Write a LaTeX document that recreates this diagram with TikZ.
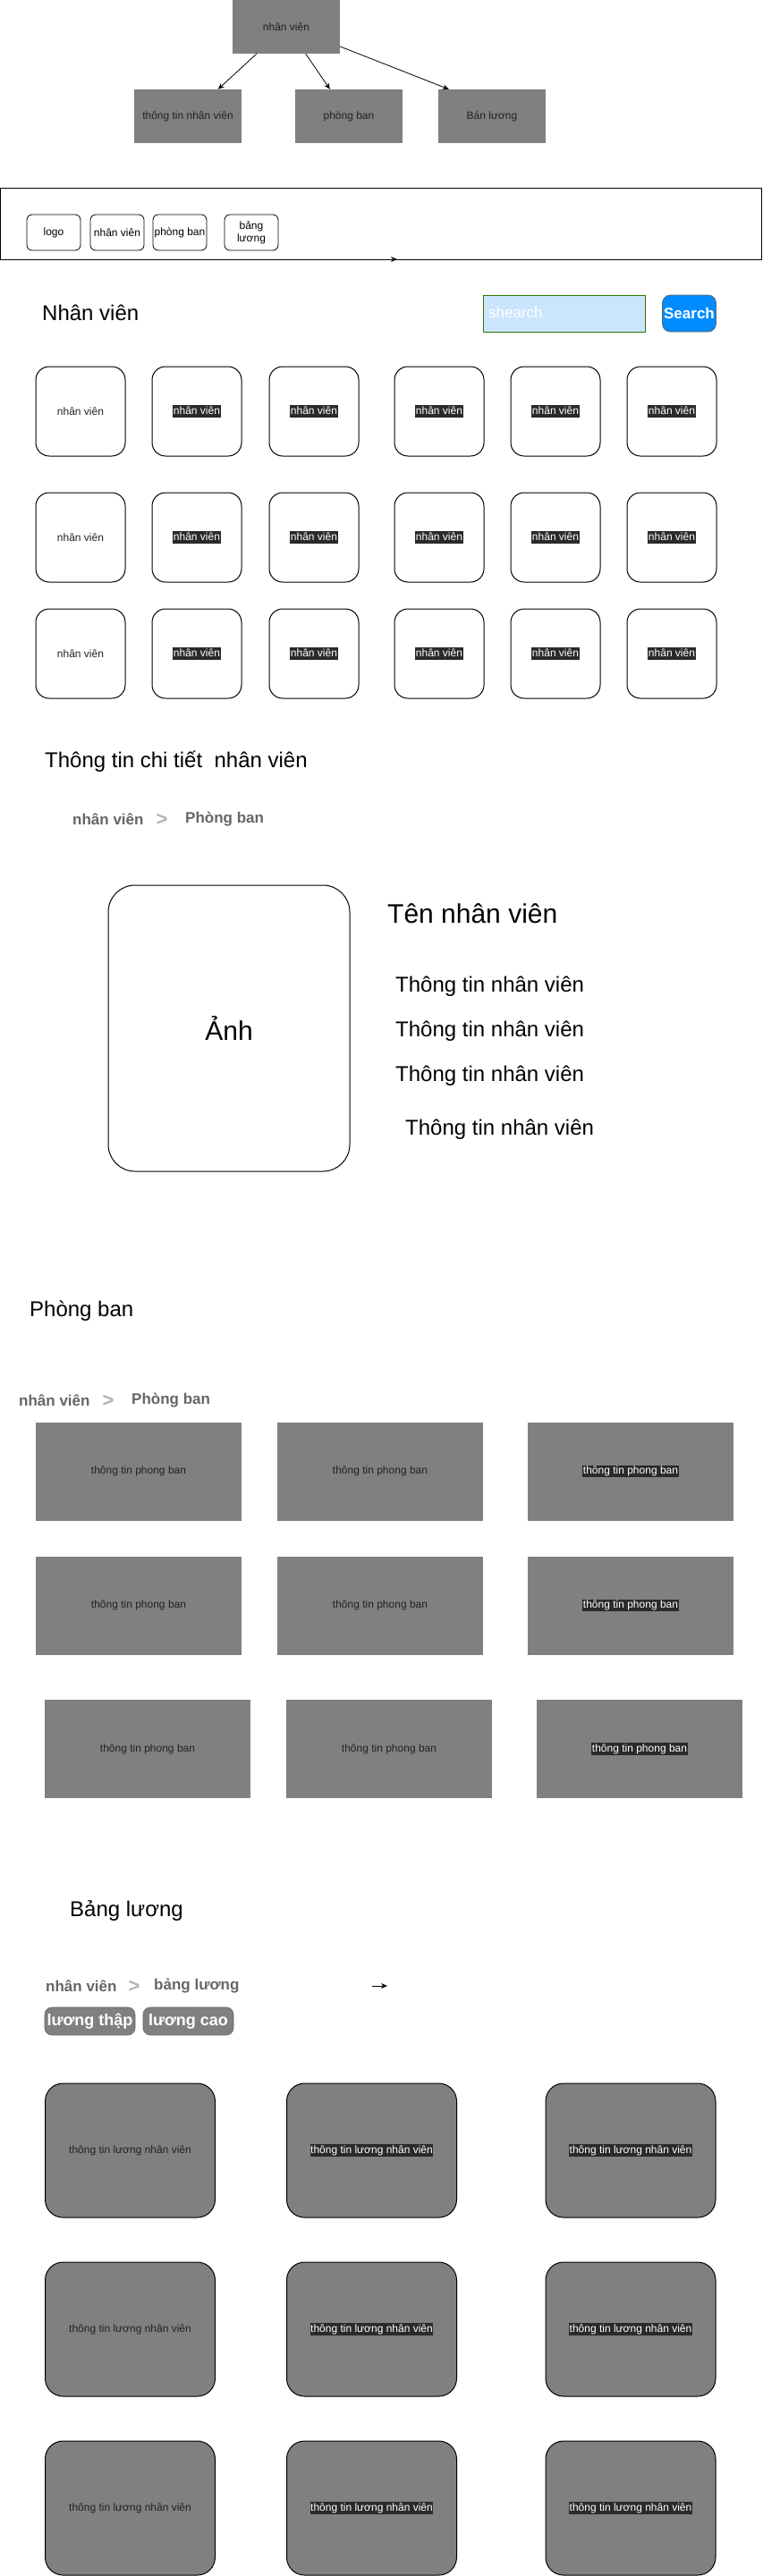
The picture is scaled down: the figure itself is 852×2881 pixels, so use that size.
\documentclass[tikz,border=0pt]{standalone}
\usepackage{fontspec}
\setmainfont{Liberation Sans}
\usetikzlibrary{arrows.meta}
\definecolor{boxgray}{HTML}{808080}
\definecolor{txtdark}{HTML}{222222}
\definecolor{hlbg}{HTML}{2A2A2A}
\definecolor{crumbgray}{HTML}{666666}
\definecolor{sepgray}{HTML}{B3B3B3}
\definecolor{searchfill}{HTML}{CCE5FF}
\definecolor{searchdraw}{HTML}{2D7600}
\definecolor{btnblue}{HTML}{008CFF}
\definecolor{btnborder}{HTML}{666666}
\newcommand\fsz[1]{\fontsize{#1}{#1}\selectfont}
\begin{document}
\begin{tikzpicture}[x=1pt,y=-1pt,
  tbox/.style={fill=boxgray, draw=none, minimum width=120, minimum height=60, inner sep=0, text=txtdark, font=\fsz{12}},
  navbtn/.style={draw, line width=0.8, rounded corners=6, minimum width=60, minimum height=40, inner sep=0, align=center, font=\fontsize{12}{14}\selectfont},
  card/.style={draw, line width=1, rounded corners=15, fill=white, minimum width=100, minimum height=100, inner sep=0, text=txtdark, font=\fsz{12}},
  hl/.style={fill=hlbg, text=white, font=\fsz{12}, inner xsep=0.5, inner ysep=0.8, text height=9, text depth=2.5},
  pbox/.style={fill=boxgray, draw=none, minimum width=230, minimum height=110, inner sep=0, text=txtdark, font=\fsz{12}},
  lcard/.style={fill=boxgray, draw, line width=1, rounded corners=20, minimum width=190, minimum height=150, inner sep=0, text=txtdark, font=\fsz{12}},
  titletext/.style={font=\fsz{24}, anchor=west, inner sep=0},
  crumb/.style={font=\bfseries\fsz{17}, text=crumbgray, anchor=west, inner sep=0},
  crumbsep/.style={font=\bfseries\fsz{22}, text=sepgray, inner sep=0},
  pill/.style={fill=boxgray, draw=btnborder, line width=0.6, rounded corners=8, minimum width=101, minimum height=31, inner sep=0, text=white, font=\bfseries\fsz{18}},
  arr/.style={-{Stealth[length=7, width=6]}, line width=0.8}
]
\useasboundingbox (0,0) rectangle (852,2881);
\fill[white] (0,0) rectangle (852,2881);

% ---------- tree ----------
\node[tbox] (root) at (320,30) {nhân viên};
\node[tbox] (tc1) at (210,130) {thông tin nhân viên};
\node[tbox] (tc2) at (390,130) {phòng ban};
\node[tbox] (tc3) at (550,130) {Bán lương};
\draw[arr] ([xshift=27]root.south west) -- ([xshift=94]tc1.north west);
\draw[arr] ([xshift=82]root.south west) -- ([xshift=39]tc2.north west);
\draw[arr] ([yshift=-22]root.east) -- ([xshift=12]tc3.north west);

% ---------- nav bar ----------
\node[draw, line width=1, minimum width=851, minimum height=80, inner sep=0] (nav) at (426,250) {};
\node[navbtn] (nlogo) at (60,260) {logo};
\node[navbtn] (nnv) at (131,260) {nhân viên};
\node[navbtn] (npb) at (201,260) {phòng ban};
\node[navbtn] (nbl) at (281,260) {bảng\\lương};
\coordinate (na1) at (431,290);
\coordinate (na2) at (444,290);
\draw[arr] (na1) -- (na2);

% ---------- nhan vien list ----------
\node[titletext] (nvtitle) at (47,350) {Nhân viên};
\node[draw=searchdraw, fill=searchfill, line width=1, minimum width=181, minimum height=41, inner sep=0] (sbox) at (631,350.5) {};
\node[font=\fsz{17}, text=white, anchor=west, inner sep=0] (stext) at (546,349) {shearch};
\node[fill=btnblue, draw=btnborder, line width=0.8, rounded corners=9, minimum width=60, minimum height=41, inner sep=0, text=white, font=\bfseries\fsz{17}] (sbtn) at (770.5,350.5) {Search};

\foreach \r/\y in {1/460,2/601,3/731} {
  \node[card] (nv\r1) at (90,\y) {nhân viên};
  \foreach \c/\x in {2/220,3/351,4/491,5/621,6/751} {
    \node[card] (nv\r\c) at (\x,\y) {};
    \node[hl] (nvt\r\c) at (nv\r\c.center) {nhân viên};
  }
}

% ---------- detail ----------
\node[titletext] (dtitle) at (50,852) {Thông tin chi tiết\ \ nhân viên};
\node[crumb] (bc1a) at (81,916) {nhân viên};
\node[crumbsep] (bc1s) at (181,917) {>};
\node[crumb] (bc1b) at (207,916) {Phòng ban};
\node[draw, line width=1, rounded corners=30, minimum width=270, minimum height=320, inner sep=0, font=\fsz{30}] (photo) at (256,1150) {Ảnh};
\node[font=\fsz{30}, anchor=west, inner sep=0] (tennv) at (433,1022) {Tên nhân viên};
\node[titletext] (info1) at (442,1103) {Thông tin nhân viên};
\node[titletext] (info2) at (442,1153) {Thông tin nhân viên};
\node[titletext] (info3) at (442,1203) {Thông tin nhân viên};
\node[titletext] (info4) at (453,1263) {Thông tin nhân viên};

% ---------- phong ban ----------
\node[titletext] (pbtitle) at (33,1466) {Phòng ban};
\node[crumb] (bc2a) at (21,1566) {nhân viên};
\node[crumbsep] (bc2s) at (121,1567) {>};
\node[crumb] (bc2b) at (147,1566) {Phòng ban};
\foreach \r/\y/\dx in {1/1645.5/0,2/1795.5/0,3/1956/10} {
  \node[pbox] (pb\r1) at ({155+\dx},\y) {thông tin phong ban};
  \node[pbox] (pb\r2) at ({425+\dx},\y) {thông tin phong ban};
  \node[pbox] (pb\r3) at ({705+\dx},\y) {};
  \node[hl] (pbt\r3) at (pb\r3.center) {thông tin phong ban};
}

% ---------- bang luong ----------
\node[titletext] (bltitle) at (78,2137) {Bảng lương};
\node[crumb] (bc3a) at (51,2221) {nhân viên};
\node[crumbsep] (bc3s) at (150,2222) {>};
\node[crumb] (bc3b) at (172,2221) {bảng lương};
\coordinate (ba1) at (416,2221);
\coordinate (ba2) at (433,2221);
\draw[arr] (ba1) -- (ba2);
\node[pill] (lthap) at (100.5,2260.5) {lương thập};
\node[pill] (lcao) at (210.5,2260.5) {lương cao};
\foreach \r/\y in {1/2405,2/2605,3/2805} {
  \node[lcard] (bl\r1) at (145.5,\y) {thông tin lương nhân viên};
  \node[lcard] (bl\r2) at (415.5,\y) {};
  \node[hl] (blt\r2) at (bl\r2.center) {thông tin lương nhân viên};
  \node[lcard] (bl\r3) at (705,\y) {};
  \node[hl] (blt\r3) at (bl\r3.center) {thông tin lương nhân viên};
}
\end{tikzpicture}
\end{document}
